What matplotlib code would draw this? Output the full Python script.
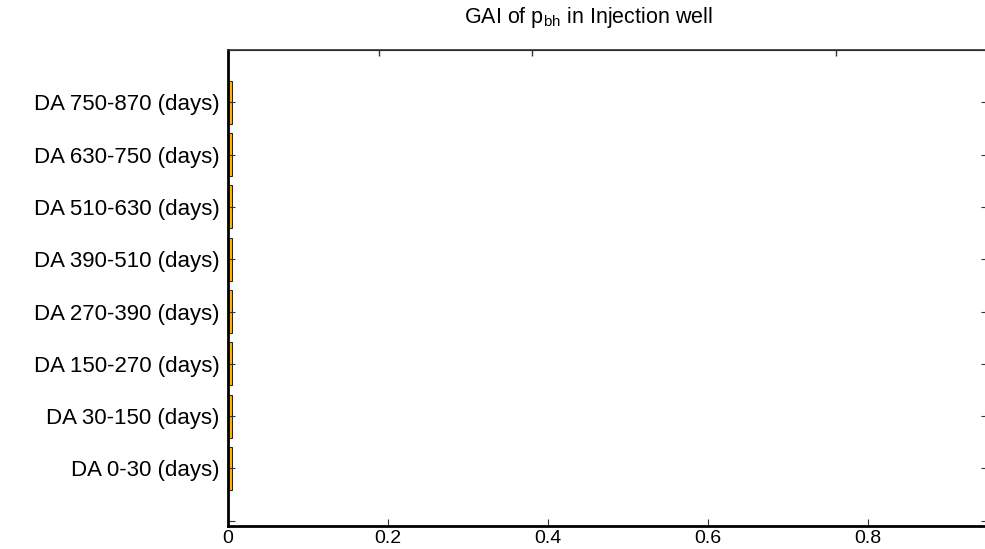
import numpy as np
import matplotlib.pyplot as plt

plt.rcParams.update({
    "font.family": ["Liberation Sans", "DejaVu Sans"],
    "font.size": 15,
})

# Catégories (de bas en haut) et valeurs GAI
categories = [
    "DA 0-30 (days)",
    "DA 30-150 (days)",
    "DA 150-270 (days)",
    "DA 270-390 (days)",
    "DA 390-510 (days)",
    "DA 510-630 (days)",
    "DA 630-750 (days)",
    "DA 750-870 (days)",
]
gai = [0.0055, 0.0055, 0.0055, 0.0055, 0.0055, 0.0055, 0.0055, 0.0055]
xticks = [0, 0.2, 0.4, 0.6, 0.8]
top_ticks = [0.189, 0.38, 0.76]

W, H = 985, 549
fig = plt.figure(figsize=(W / 100, H / 100), dpi=100)
ax = fig.add_axes([228 / W, 1 - 526 / H, 760 / W, 476 / H])

pos = np.arange(1, len(categories) + 1)
ax.barh(pos, gai, height=0.82, color="#FFB000", edgecolor="black", linewidth=0.6)

ax.set_xlim(0, 0.95)
ax.set_ylim(-0.1, 9)
ax.set_xticks(xticks)
ax.set_xticklabels(["0", "0.2", "0.4", "0.6", "0.8"], fontsize=14)
ax.set_yticks(np.arange(0, 10))
ax.set_yticklabels([""] + categories + [""], fontsize=16)
ax.tick_params(axis="both", direction="in", length=5, width=0.8, color="#333333",
               right=True)
ax.tick_params(axis="y", pad=6)
ax.tick_params(axis="x", pad=3)

ax.spines["left"].set_linewidth(2)
ax.spines["bottom"].set_linewidth(2)
ax.spines["top"].set_linewidth(1.2)
ax.spines["top"].set_color("#333333")
ax.spines["right"].set_visible(False)

# graduations du haut (décalées comme sur l'original)
top = ax.secondary_xaxis("top")
top.set_xticks(top_ticks)
top.set_xticklabels([])
top.tick_params(direction="in", length=4, width=1, color="#333333")

fig.text(588 / W, 1 - 18 / H, r"GAI of p$_{\mathregular{bh}}$ in Injection well",
         ha="center", va="center", fontsize=15.5)

fig.savefig("out.png", dpi=100)
